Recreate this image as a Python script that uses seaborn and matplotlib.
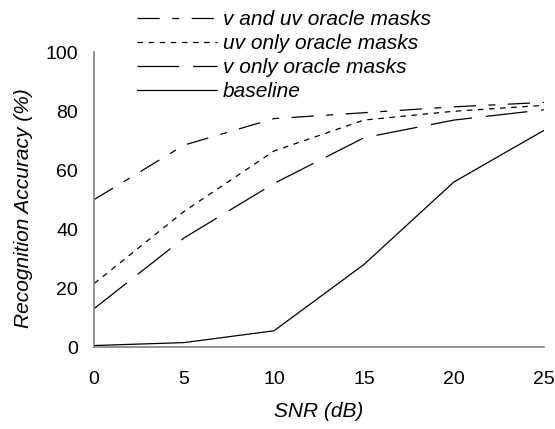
import matplotlib
matplotlib.use("Agg")
import matplotlib.pyplot as plt
import seaborn as sns
import pandas as pd

# SNR 값 (dB)
snr = [0, 5, 10, 15, 20, 25]

# 시리즈별 인식 정확도 (%)
v_and_uv = [50, 68.5, 77.5, 79.5, 81.5, 83]
uv_only = [21.5, 46, 66.5, 77, 80, 82]
v_only = [13, 37, 55.5, 71, 77, 80.5]
baseline = [0.5, 1.5, 5.5, 28, 56, 73.5]

labels = ["v and uv oracle masks", "uv only oracle masks",
          "v only oracle masks", "baseline"]

sns.set_style("white")
plt.rcParams['font.family'] = ['Liberation Sans', 'DejaVu Sans']
plt.rcParams['lines.scale_dashes'] = False
plt.rcParams['text.color'] = 'black'
plt.rcParams['axes.labelcolor'] = 'black'

df = pd.DataFrame({
    'snr': snr * 4,
    'acc': v_and_uv + uv_only + v_only + baseline,
    'series': [l for l in labels for _ in snr],
})

dashes = {
    labels[0]: (16, 9, 5, 9),
    labels[1]: (4, 4),
    labels[2]: (30, 10),
    labels[3]: "",
}

fig = plt.figure(figsize=(5.55, 4.29), dpi=100)
ax = fig.add_axes([0.1694, 0.1911, 0.8106, 0.687])

sns.lineplot(data=df, x='snr', y='acc', hue='series', style='series',
             palette=['black'] * 4, dashes=dashes, linewidth=0.9,
             ax=ax, legend=False)

ax.set_xlim(0, 25)
ax.set_ylim(0, 100)
ax.set_xticks(snr)
ax.set_yticks([0, 20, 40, 60, 80, 100])
ax.tick_params(direction='out', length=5.5, width=1.2, color='#808080',
               labelsize=14, labelcolor='black')
ax.tick_params(axis='y', pad=6)
ax.tick_params(axis='x', pad=12)
for s in ['top', 'right']:
    ax.spines[s].set_visible(False)
for s in ['left', 'bottom']:
    ax.spines[s].set_color('#808080')
    ax.spines[s].set_linewidth(1.2)

ax.set_xlabel('SNR (dB)', fontsize=15, style='italic', labelpad=10)
ax.set_ylabel('Recognition Accuracy (%)', fontsize=15, style='italic')
ax.yaxis.set_label_coords(-0.136, 0.47)

# 범례 (축 위쪽에 겹치게)
handles = ax.get_lines()[:4]
fig.legend(handles, labels, loc='upper left',
           bbox_to_anchor=(0.243, 0.981), frameon=False,
           prop={'size': 15, 'style': 'italic'},
           handlelength=3.84, handletextpad=0.27, labelspacing=0.24,
           borderpad=0.1, borderaxespad=0)

fig.savefig('out.png', dpi=100)
